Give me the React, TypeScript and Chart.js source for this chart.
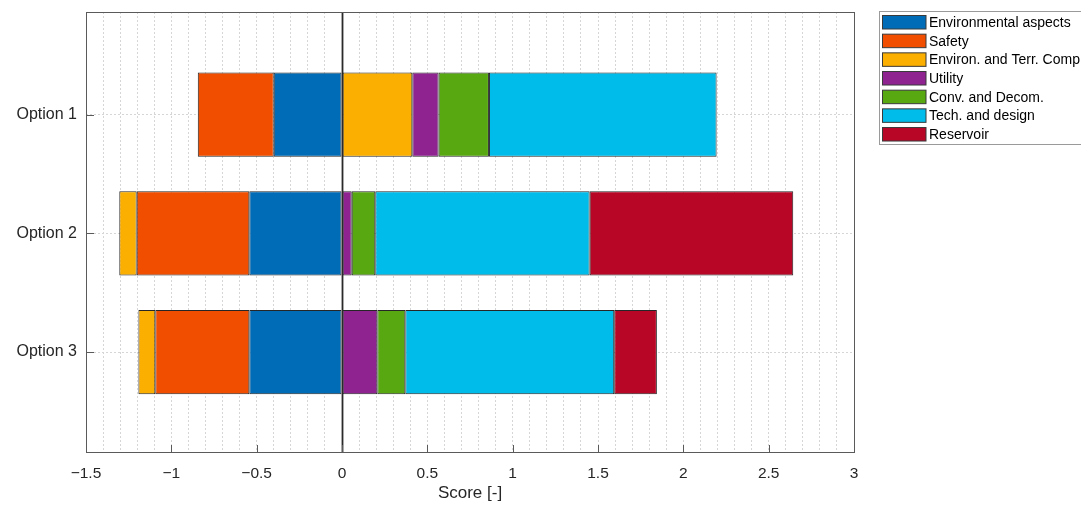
import React, { useEffect, useRef } from 'react';
import { Chart, registerables } from 'chart.js';

Chart.register(...registerables);

const categories = ['Option 1', 'Option 2', 'Option 3'];
const seriesNames = [
  'Environmental aspects',
  'Safety',
  'Environ. and Terr. Comp.',
  'Utility',
  'Conv. and Decom.',
  'Tech. and design',
  'Reservoir',
];
const envAspects = [-0.4, -0.543, -0.543];
const safety = [-0.445, -0.66, -0.551];
const environTerr = [0.412, -0.102, -0.099];
const utility = [0.154, 0.057, 0.207];
const convDecom = [0.295, 0.138, 0.164];
const techDesign = [1.334, 1.256, 1.224];
const reservoir: (number | null)[] = [null, 1.193, 0.25];
const seriesColors = ['#006CB8', '#F24E00', '#FBAF00', '#8F2490', '#58A812', '#00BCEA', '#B80627'];

const xTickValues = [-1.5, -1, -0.5, 0, 0.5, 1, 1.5, 2, 2.5, 3];
const xTickLabels = ['−1.5', '−1', '−0.5', '0', '0.5', '1', '1.5', '2', '2.5', '3'];
const xMinorStep = 0.1;

const FONT = "'Liberation Sans', Arial, Helvetica, sans-serif";
const TEXT = '#262626';

const decorPlugin = {
  id: 'decor',
  afterDatasetsDraw(chart: any) {
    const { ctx, chartArea } = chart;
    const { left, right, top, bottom } = chartArea;
    const xs = chart.scales.x;
    const ys = chart.scales.y;
    ctx.save();
    const x0 = Math.round(xs.getPixelForValue(0)) + 0.5;
    ctx.strokeStyle = '#2a2a2a';
    ctx.lineWidth = 1.8;
    ctx.beginPath();
    ctx.moveTo(x0, top);
    ctx.lineTo(x0, bottom);
    ctx.stroke();
    ctx.strokeStyle = '#5a5a5a';
    ctx.lineWidth = 1;
    ctx.strokeRect(Math.round(left) + 0.5, Math.round(top) + 0.5, Math.round(right - left), Math.round(bottom - top));
    ctx.beginPath();
    xTickValues.forEach((v) => {
      const px = Math.round(xs.getPixelForValue(v)) + 0.5;
      ctx.moveTo(px, bottom);
      ctx.lineTo(px, bottom - 7);
    });
    categories.forEach((_, i) => {
      const py = Math.round(ys.getPixelForValue(i + 1)) + 0.5;
      ctx.moveTo(left, py);
      ctx.lineTo(left + 8, py);
    });
    ctx.stroke();
    ctx.restore();
  },
  afterDraw(chart: any) {
    const { ctx } = chart;
    ctx.save();
    const bx = 879.5;
    const by = 11.5;
    ctx.fillStyle = '#ffffff';
    ctx.fillRect(bx, by, 260, 133);
    ctx.strokeStyle = '#9a9a9a';
    ctx.lineWidth = 1;
    ctx.strokeRect(bx, by, 260, 133);
    ctx.font = `14px ${FONT}`;
    ctx.textBaseline = 'middle';
    ctx.textAlign = 'left';
    chart.data.datasets.forEach((ds: any, i: number) => {
      const y = 15.5 + i * 18.67;
      ctx.fillStyle = ds.backgroundColor;
      ctx.fillRect(882.5, y, 43.5, 13.5);
      ctx.strokeStyle = '#3a3a3a';
      ctx.strokeRect(882.5, y, 43.5, 13.5);
      ctx.fillStyle = '#000';
      ctx.fillText(ds.label, 929, y + 7.5);
    });
    ctx.restore();
  },
};

function buildData() {
  const series = [envAspects, safety, environTerr, utility, convDecom, techDesign, reservoir];
  return {
    datasets: series.map((vals, si) => ({
      label: seriesNames[si],
      backgroundColor: seriesColors[si],
      borderColor: '#262626',
      borderWidth: 1,
      borderSkipped: false,
      barPercentage: 0.71,
      categoryPercentage: 1,
      data: vals
        .map((v, ci) => (v === null ? null : { x: v, y: ci + 1 }))
        .filter((p) => p !== null),
    })),
  };
}

export default function App() {
  const ref = useRef<HTMLCanvasElement | null>(null);
  useEffect(() => {
    if (!ref.current) return;
    const minorTicks: number[] = [];
    const n = Math.round((xTickValues[xTickValues.length - 1] - xTickValues[0]) / xMinorStep);
    for (let i = 0; i <= n; i++) minorTicks.push(Math.round((xTickValues[0] + i * xMinorStep) * 10) / 10);
    const chart = new Chart(ref.current, {
      type: 'bar',
      data: buildData() as any,
      plugins: [decorPlugin],
      options: {
        indexAxis: 'y',
        animation: false,
        responsive: false,
        maintainAspectRatio: false,
        layout: { padding: { top: 12, right: 227, left: 0, bottom: 0 } },
        plugins: { legend: { display: false }, tooltip: { enabled: false } },
        scales: {
          x: {
            type: 'linear',
            min: xTickValues[0],
            max: xTickValues[xTickValues.length - 1],
            stacked: true,
            offset: false,
            afterBuildTicks: (s: any) => {
              s.ticks = minorTicks.map((v) => ({ value: v }));
            },
            afterFit: (s: any) => {
              s.height = 53;
              s.paddingLeft = 0;
              s.paddingRight = 0;
            },
            ticks: {
              autoSkip: false,
              maxRotation: 0,
              padding: 12,
              color: TEXT,
              font: { family: FONT, size: 15.5 },
              callback: (v: any) => {
                const idx = xTickValues.findIndex((t) => Math.abs(t - Number(v)) < 1e-6);
                return idx >= 0 ? xTickLabels[idx] : '';
              },
            },
            grid: { color: '#d6d6d6', lineWidth: 1, drawTicks: false, offset: false },
            border: { display: false, dash: [2, 2] },
            title: {
              display: true,
              text: 'Score [-]',
              color: TEXT,
              font: { family: FONT, size: 17 },
              padding: { top: 0, bottom: 1 },
            },
          },
          y: {
            type: 'linear',
            reverse: true,
            min: 0.135,
            max: 3.842,
            stacked: true,
            offset: false,
            afterBuildTicks: (s: any) => {
              s.ticks = categories.map((_, i) => ({ value: i + 1 }));
            },
            afterFit: (s: any) => {
              s.width = 86;
              s.paddingTop = 0;
              s.paddingBottom = 0;
            },
            ticks: {
              autoSkip: false,
              padding: 9,
              color: TEXT,
              font: { family: FONT, size: 16 },
              callback: (v: any) => categories[Math.round(Number(v)) - 1] ?? '',
            },
            grid: { color: '#d6d6d6', lineWidth: 1, drawTicks: false, offset: false },
            border: { display: false, dash: [2, 2] },
          },
        },
      } as any,
    });
    return () => chart.destroy();
  }, []);
  return (
    <div style={{ position: 'fixed', left: 0, top: 0, width: 1081, height: 505, background: '#fff' }}>
      <canvas ref={ref} width={1081} height={505} style={{ display: 'block', width: 1081, height: 505 }} />
    </div>
  );
}
